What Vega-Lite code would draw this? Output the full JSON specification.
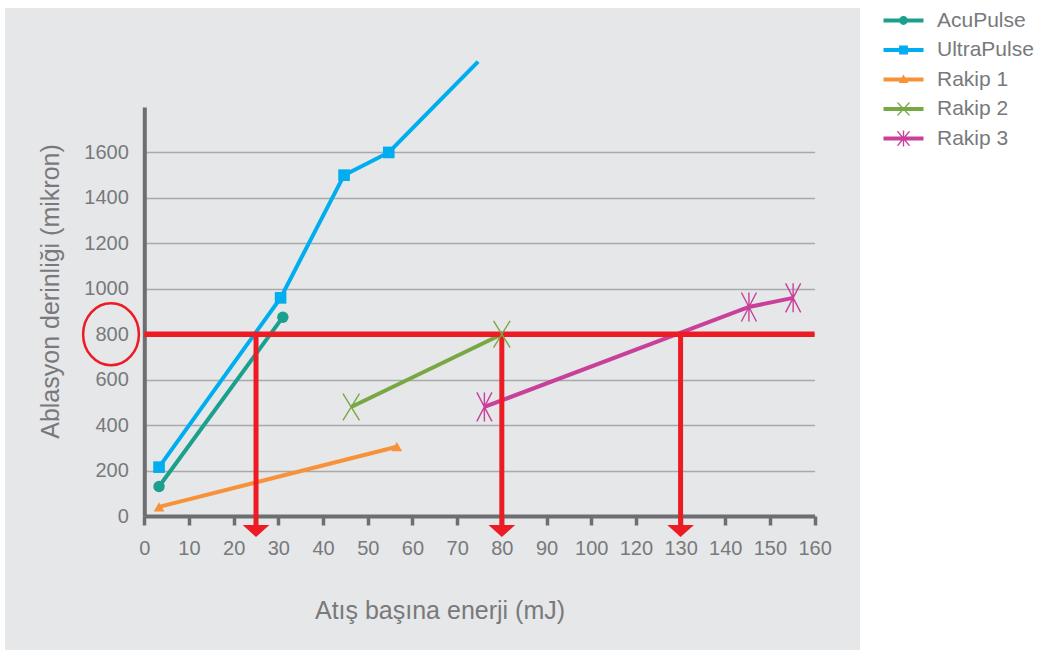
{
  "$schema": "https://vega.github.io/schema/vega-lite/v6.json",
  "width": 855,
  "height": 642,
  "autosize": {"type": "none"},
  "padding": {"left": 5, "top": 8, "right": 178, "bottom": 0},
  "background": "white",
  "config": {
    "view": {"fill": "#e6e7e8", "stroke": null},
    "font": "Liberation Sans",
    "axis": {
      "labelColor": "#78797c",
      "titleColor": "#78797c",
      "labelFontSize": 20,
      "labelFontWeight": "normal",
      "titleFontSize": 25,
      "titleFontWeight": "normal",
      "domainColor": "#6d6e71",
      "domainWidth": 4,
      "tickColor": "#6d6e71",
      "gridColor": "#a7a9ac",
      "gridWidth": 1.5
    }
  },
  "datasets": {
    "measurements": [
      {"series": "AcuPulse", "energy": 3.3, "depth": 130},
      {"series": "AcuPulse", "energy": 31, "depth": 875},
      {"series": "UltraPulse", "energy": 3.3, "depth": 215},
      {"series": "UltraPulse", "energy": 30.5, "depth": 960},
      {"series": "UltraPulse", "energy": 44.7, "depth": 1500},
      {"series": "UltraPulse", "energy": 54.7, "depth": 1600},
      {"series": "UltraPulse", "energy": 74.7, "depth": 2000},
      {"series": "Rakip 1", "energy": 3.3, "depth": 40},
      {"series": "Rakip 1", "energy": 56.5, "depth": 305},
      {"series": "Rakip 2", "energy": 46.3, "depth": 480},
      {"series": "Rakip 2", "energy": 80, "depth": 800},
      {"series": "Rakip 3", "energy": 76.1, "depth": 480},
      {"series": "Rakip 3", "energy": 145.3, "depth": 920},
      {"series": "Rakip 3", "energy": 155.2, "depth": 960}
    ],
    "target": [
      {"depth": 800}
    ],
    "readings": [
      {"energy": 25},
      {"energy": 80},
      {"energy": 130}
    ]
  },
  "layer": [
    {
      "data": {"name": "measurements"},
      "mark": {"type": "line", "strokeWidth": 4},
      "encoding": {
        "x": {
          "field": "energy",
          "type": "quantitative",
          "scale": {"domain": [0, 100, 120, 160], "range": [139.3, 586.2, 630.9, 809.6], "nice": false, "zero": false},
          "axis": {
            "title": "Atış başına enerji (mJ)",
            "values": [0, 10, 20, 30, 40, 50, 60, 70, 80, 90, 100, 120, 130, 140, 150, 160],
            "offset": -134,
            "grid": false,
            "tickSize": 9,
            "tickWidth": 3.5,
            "labelPadding": 13,
            "labelFlush": false,
            "labelOverlap": false,
            "titleX": 434.5,
            "titleY": 102,
            "titleAlign": "center",
            "titleBaseline": "alphabetic"
          }
        },
        "y": {
          "field": "depth",
          "type": "quantitative",
          "scale": {"domain": [0, 1800], "range": [508, 99], "nice": false, "zero": false},
          "axis": {
            "title": "Ablasyon derinliği (mikron)",
            "values": [0, 200, 400, 600, 800, 1000, 1200, 1400, 1600],
            "format": "d",
            "offset": -139.3,
            "grid": true,
            "ticks": false,
            "tickSize": 0,
            "labelPadding": 16,
            "labelOverlap": false,
            "titleX": -86,
            "titleY": 283,
            "titleAngle": -90,
            "titleAlign": "center",
            "titleBaseline": "alphabetic"
          }
        },
        "color": {
          "field": "series",
          "type": "nominal",
          "scale": {
            "domain": ["AcuPulse", "UltraPulse", "Rakip 1", "Rakip 2", "Rakip 3"],
            "range": ["#1ba08e", "#00aeef", "#f7923a", "#78a843", "#c9409b"]
          },
          "legend": {
            "title": null,
            "orient": "none",
            "legendX": 888,
            "legendY": 2,
            "padding": 0,
            "symbolSize": 400,
            "symbolStrokeWidth": 0,
            "symbolOpacity": 1,
            "labelFontSize": 21,
            "labelColor": "#78797c",
            "labelOffset": 23,
            "rowPadding": 7.5
          }
        }
      }
    },
    {
      "data": {"name": "measurements"},
      "transform": [{"filter": "false"}],
      "mark": {"type": "point", "filled": true, "opacity": 1},
      "encoding": {
        "x": {"field": "energy", "type": "quantitative"},
        "y": {"field": "depth", "type": "quantitative"},
        "color": {"field": "series", "type": "nominal"},
        "shape": {
          "field": "series",
          "type": "nominal",
          "scale": {
            "domain": ["AcuPulse", "UltraPulse", "Rakip 1", "Rakip 2", "Rakip 3"],
            "range": [
              "M -2 -0.2 L 2 -0.2 L 2 0.2 L -2 0.2 Z M 0.44 0 A 0.44 0.44 0 1 1 -0.44 0 A 0.44 0.44 0 1 1 0.44 0 Z",
              "M -2 -0.2 L 2 -0.2 L 2 0.2 L -2 0.2 Z M -0.44 -0.44 L 0.44 -0.44 L 0.44 0.44 L -0.44 0.44 Z",
              "M -2 -0.2 L 2 -0.2 L 2 0.2 L -2 0.2 Z M 0 -0.5 L 0.48 0.34 L -0.48 0.34 Z",
              "M -2 -0.2 L 2 -0.2 L 2 0.2 L -2 0.2 Z M -0.69 -0.66 L -0.51 -0.66 L 0.69 0.66 L 0.51 0.66 Z M 0.51 -0.66 L 0.69 -0.66 L -0.51 0.66 L -0.69 0.66 Z",
              "M -2 -0.2 L 2 -0.2 L 2 0.2 L -2 0.2 Z M -0.69 -0.72 L -0.51 -0.72 L 0.69 0.72 L 0.51 0.72 Z M 0.51 -0.72 L 0.69 -0.72 L -0.51 0.72 L -0.69 0.72 Z M -0.07 -0.8 L 0.07 -0.8 L 0.07 0.8 L -0.07 0.8 Z"
            ]
          },
          "legend": null
        }
      }
    },
    {
      "data": {"name": "target"},
      "mark": {"type": "rule", "color": "#ed1c24", "strokeWidth": 5.5},
      "encoding": {
        "y": {"field": "depth", "type": "quantitative"},
        "x": {"datum": 0, "type": "quantitative"},
        "x2": {"datum": 160}
      }
    },
    {
      "data": {"name": "readings"},
      "mark": {"type": "rule", "color": "#ed1c24", "strokeWidth": 5},
      "encoding": {
        "x": {"field": "energy", "type": "quantitative"},
        "y": {"datum": 800, "type": "quantitative"},
        "y2": {"datum": -50}
      }
    },
    {
      "data": {"name": "readings"},
      "mark": {"type": "point", "shape": "M -1 -0.45 L 1 -0.45 L 0 0.45 Z", "filled": true, "color": "#ed1c24", "size": 713, "opacity": 1},
      "encoding": {
        "x": {"field": "energy", "type": "quantitative"},
        "y": {"datum": -66, "type": "quantitative"}
      }
    },
    {
      "data": {"name": "measurements"},
      "transform": [{"filter": "datum.series === 'AcuPulse'"}],
      "mark": {"type": "point", "shape": "circle", "filled": true, "size": 130, "opacity": 1},
      "encoding": {
        "x": {"field": "energy", "type": "quantitative"},
        "y": {"field": "depth", "type": "quantitative"},
        "color": {"field": "series", "type": "nominal", "legend": null}
      }
    },
    {
      "data": {"name": "measurements"},
      "transform": [{"filter": "datum.series === 'UltraPulse' && datum.depth <= 1800"}],
      "mark": {"type": "point", "shape": "square", "filled": true, "size": 135, "opacity": 1},
      "encoding": {
        "x": {"field": "energy", "type": "quantitative"},
        "y": {"field": "depth", "type": "quantitative"},
        "color": {"field": "series", "type": "nominal", "legend": null}
      }
    },
    {
      "data": {"name": "measurements"},
      "transform": [{"filter": "datum.series === 'Rakip 1'"}],
      "mark": {"type": "point", "shape": "triangle-up", "filled": true, "size": 115, "opacity": 1},
      "encoding": {
        "x": {"field": "energy", "type": "quantitative"},
        "y": {"field": "depth", "type": "quantitative"},
        "color": {"field": "series", "type": "nominal", "legend": null}
      }
    },
    {
      "data": {"name": "measurements"},
      "transform": [{"filter": "datum.series === 'Rakip 2'"}],
      "mark": {"type": "point", "shape": "M -0.57 -0.92 L 0.57 0.92 M 0.57 -0.92 L -0.57 0.92", "filled": false, "size": 841, "strokeWidth": 1.4, "opacity": 1},
      "encoding": {
        "x": {"field": "energy", "type": "quantitative"},
        "y": {"field": "depth", "type": "quantitative"},
        "color": {"field": "series", "type": "nominal", "legend": null}
      }
    },
    {
      "data": {"name": "measurements"},
      "transform": [{"filter": "datum.series === 'Rakip 3'"}],
      "mark": {"type": "point", "shape": "M -0.52 -1 L 0.52 1 M 0.52 -1 L -0.52 1 M 0 -1 L 0 1", "filled": false, "size": 841, "strokeWidth": 1.4, "opacity": 1},
      "encoding": {
        "x": {"field": "energy", "type": "quantitative"},
        "y": {"field": "depth", "type": "quantitative"},
        "color": {"field": "series", "type": "nominal", "legend": null}
      }
    },
    {
      "data": {"name": "target"},
      "mark": {"type": "point", "shape": "M 0.9 0 A 0.9 1 0 1 1 -0.9 0 A 0.9 1 0 1 1 0.9 0 Z", "filled": false, "color": "#ed1c24", "strokeWidth": 2.5, "size": 3844, "opacity": 1},
      "encoding": {
        "x": {"datum": -7.45, "type": "quantitative"},
        "y": {"field": "depth", "type": "quantitative"}
      }
    }
  ]
}
